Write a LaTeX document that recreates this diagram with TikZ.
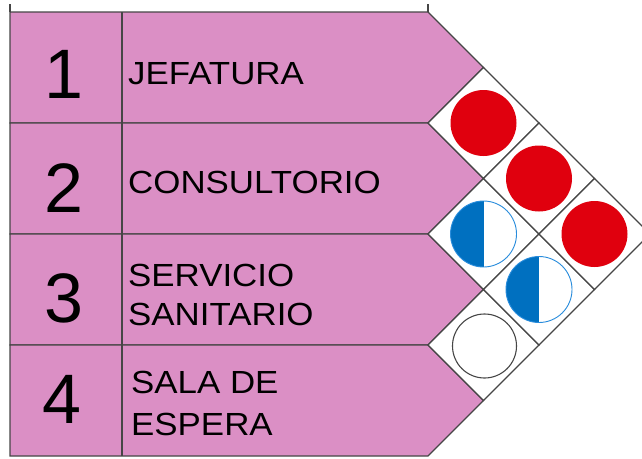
\documentclass[tikz,border=0pt]{standalone}
\usepackage{fontspec}
\setmainfont{Liberation Sans}
\newfontfamily\labfont[FakeStretch=1.09]{Liberation Sans}
\definecolor{rowpink}{RGB}{219,143,197}
\definecolor{dotred}{RGB}{224,0,14}
\definecolor{dotblue}{RGB}{0,112,192}
\definecolor{ringblue}{RGB}{40,140,220}
\definecolor{edgegray}{RGB}{70,70,70}
\tikzset{
  rowshape/.style={fill=rowpink, draw=edgegray, line width=1.3pt, line join=miter},
  cellshape/.style={fill=white, draw=edgegray, line width=1.3pt},
  divider/.style={draw=edgegray, line width=1.3pt},
  numtext/.style={anchor=base, inner sep=0pt, font=\fontsize{70}{70}\selectfont},
  labtext/.style={anchor=base west, inner sep=0pt, font=\labfont\fontsize{32}{32}\selectfont},
  reddot/.style={circle, fill=dotred, minimum size=66pt, inner sep=0pt},
  halfdot/.style={circle, draw=ringblue, line width=0.9pt, fill=white, minimum size=66pt, inner sep=0pt,
    path picture={\fill[dotblue] (path picture bounding box.south west) rectangle (path picture bounding box.north);}},
  emptydot/.style={circle, draw=edgegray, line width=1.1pt, fill=white, minimum size=64pt, inner sep=0pt}
}
\begin{document}
\begin{tikzpicture}[x=1pt,y=-1pt]
\useasboundingbox (0,0) rectangle (642,458);
\clip (0,0) rectangle (642,458);
% small ticks of the frame above
\draw[divider] (10,4) -- (10,12);
\draw[divider] (428,4) -- (428,12);
% rows
\foreach \t in {12,123,234,345}{
  \draw[rowshape] (10,\t) -- (428,\t) -- (483.5,\t+55.5) -- (428,\t+111) -- (10,\t+111) -- cycle;
  \draw[divider] (122,\t) -- (122,\t+111);
}
% relation cells
\foreach \cx/\cy in {483.5/123, 483.5/234, 483.5/345, 539/178.5, 539/289.5, 594.5/234}{
  \draw[cellshape] (\cx-55.5,\cy) -- (\cx,\cy-55.5) -- (\cx+55.5,\cy) -- (\cx,\cy+55.5) -- cycle;
}
% dots
\node[reddot] (r12) at (483.5,123) {};
\node[reddot] (r13) at (539,178.5) {};
\node[reddot] (r14) at (594.5,234) {};
\node[halfdot] (r23) at (483.5,234) {};
\node[halfdot] (r24) at (539,289.5) {};
\node[emptydot] (r34) at (484.5,346) {};
% numbers
\node[numtext] (n1) at (64,98) {1};
\node[numtext] (n2) at (64,212) {2};
\node[numtext] (n3) at (64,322) {3};
\node[numtext] (n4) at (62,423) {4};
% labels
\node[labtext] (l1) at (128,84) {JEFATURA};
\node[labtext] (l2) at (128,193) {CONSULTORIO};
\node[labtext] (l3a) at (128,286) {SERVICIO};
\node[labtext] (l3b) at (128,325) {SANITARIO};
\node[labtext] (l4a) at (131,393) {SALA DE};
\node[labtext] (l4b) at (131,435) {ESPERA};
\end{tikzpicture}
\end{document}
